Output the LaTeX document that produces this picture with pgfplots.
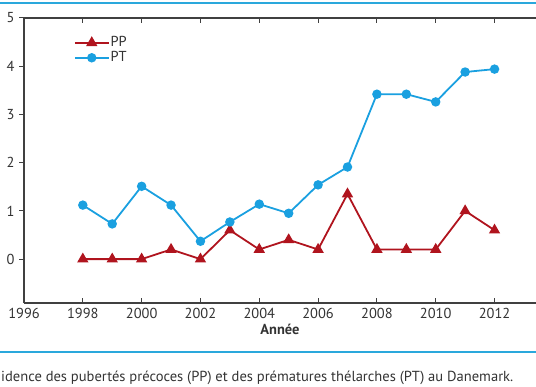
\documentclass[border=0pt]{standalone}
\usepackage{pgfplots}
\pgfplotsset{compat=1.18}
\usepackage{fontspec}
\setmainfont{PT Sans}
\definecolor{ppred}{HTML}{B0141E}
\definecolor{ptblue}{HTML}{1AA0E0}
\definecolor{frameblue}{HTML}{2AA8DC}
\definecolor{txt}{HTML}{333333}
\begin{document}
\begin{tikzpicture}[x=1bp,y=1bp]
\path[use as bounding box] (0,0) rectangle (536,386);
\begin{axis}[
  at={(24bp,83bp)}, anchor=south west,
  scale only axis, width=512bp, height=285bp,
  xmin=1996, xmax=2013.41, ymin=-0.91, ymax=5,
  axis x line*=box, axis y line*=left,
  axis line style={black!75, line width=1.5pt},
  xtick={1996,1998,...,2012}, ytick={0,1,...,5},
  x tick label style={/pgf/number format/1000 sep={}, yshift=-2bp},
  y tick label style={xshift=-1bp},
  /pgf/number format/assume math mode=true,
  tick label style={font=\fontsize{14.5}{16}\selectfont, text=txt},
  xtick style={black!75, line width=1pt}, ytick style={black!75, line width=1pt},
  xtick align=inside, ytick align=outside,
  major tick length=5bp,
  xlabel={\bfseries Année}, xlabel style={font=\fontsize{14.5}{16}\selectfont, text=txt, yshift=2bp},
  legend style={at={(0.097,0.94)}, anchor=north west, draw=none, fill=none,
    font=\fontsize{14.5}{14}\selectfont, text=txt, row sep=0pt, inner sep=0pt,
    nodes={inner sep=1pt, text height=10bp, text depth=3bp}},
  legend image code/.code={\draw[mark repeat=2,mark phase=2] plot coordinates {(0bp,0bp) (17bp,0bp) (34bp,0bp)};},
  legend cell align=left,
  clip=false,
]
\addplot[ppred, line width=1.8pt, mark=triangle*, mark size=4.8pt] coordinates {
(1998,0) (1999,0) (2000,0) (2001,0.2) (2002,0) (2003,0.6) (2004,0.2) (2005,0.4)
(2006,0.2) (2007,1.35) (2008,0.2) (2009,0.2) (2010,0.2) (2011,1.0) (2012,0.6)};
\addlegendentry{PP}
\addplot[ptblue, line width=1.8pt, mark=*, mark size=3.8pt] coordinates {
(1998,1.12) (1999,0.73) (2000,1.51) (2001,1.12) (2002,0.37) (2003,0.77) (2004,1.14)
(2005,0.95) (2006,1.54) (2007,1.91) (2008,3.42) (2009,3.42) (2010,3.26) (2011,3.88) (2012,3.94)};
\addlegendentry{PT}
\end{axis}
\draw[frameblue, line width=2pt] (0,383) -- (536,383);
\draw[frameblue, line width=2pt] (0,34) -- (536,34);
\node[anchor=west, text=txt, font=\fontsize{14.6}{16}\selectfont, inner sep=0pt] at (1,8) {idence des pubertés précoces (PP) et des prématures thélarches (PT) au Danemark.};
\end{tikzpicture}
\end{document}
